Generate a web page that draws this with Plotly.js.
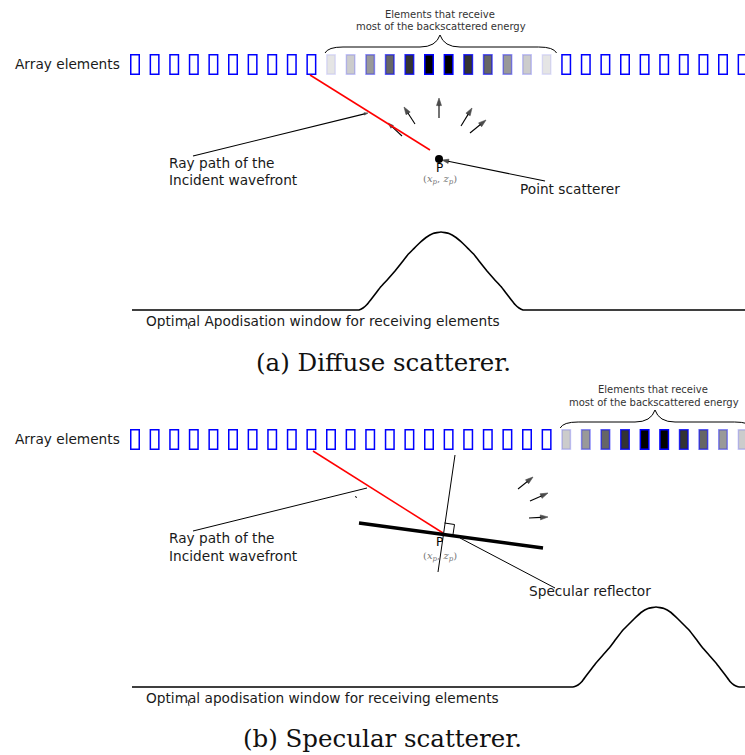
<!DOCTYPE html>
<html>
<head>
<meta charset="utf-8">
<script src="https://cdn.plot.ly/plotly-3.0.1.min.js"></script>
<style>html,body{margin:0;padding:0;background:#fff;}#plot{width:745px;height:755px;}</style>
</head>
<body>
<div id="plot"></div>
<script>
// ---------- data ----------
// receive weight of each of the 32 array elements (0 = idle element, blue outline)
const weightsA = [0,0,0,0,0,0,0,0,0,0, 0.1,0.2,0.4,0.6,0.8,1,1,0.8,0.6,0.4,0.2,0.1, 0,0,0,0,0,0,0,0,0,0];
const weightsB = [0,0,0,0,0,0,0,0,0,0, 0,0,0,0,0,0,0,0,0,0,0,0, 0.2,0.4,0.6,0.8,1,1,0.8,0.6,0.4,0.2];
// apodisation window curves
const windowAx = [132, 355, 359, 363, 367, 371, 376, 381, 388, 395, 401, 408, 413, 419, 426, 433, 441,
                  449, 456, 463, 469, 474, 481, 487, 494, 501, 506, 511, 515, 519, 523, 527, 745];
const windowAy = [310, 310, 310, 308, 304.5, 299.5, 293, 286.5, 279, 271, 263.5, 254.5, 249.5, 243.5, 237.5, 233.5, 232,
                  233.5, 237.5, 243.5, 249.5, 254.5, 263.5, 271, 279, 286.5, 293, 299.5, 304.5, 308, 310, 310, 310];
const windowBx = [132, 570, 574, 578, 582, 586, 591, 596, 603, 610, 616, 623, 628, 634, 641, 648, 656,
                  664, 671, 678, 684, 689, 696, 702, 709, 716, 721, 726, 730, 734, 738, 742, 745];
const windowBy = [687, 687, 686.7, 685, 681.5, 676, 669.5, 663, 655, 647, 639, 630, 625, 619, 612.5, 608.5, 607,
                  608.5, 612.5, 619, 625, 630, 639, 647, 655, 663, 669.5, 676, 681.5, 685, 686.7, 687, 687];
// texts
const labelArray = "Array elements";
const labelBrace = ["Elements that receive", "most of the backscattered energy"];
const labelRay = ["Ray path of the", "Incident wavefront"];
const labelPoint = "Point scatterer";
const labelSpec = "Specular reflector";
const labelWinA = "Optimal Apodisation window for receiving elements";
const labelWinB = "Optimal apodisation window for receiving elements";
const captionA = "(a) Diffuse scatterer.";
const captionB = "(b) Specular scatterer.";
const labelP = "P";
const labelCoord = "(<i>x</i><sub><i>p</i></sub>, <i>z</i><sub><i>p</i></sub>)";

// ---------- geometry ----------
const X0 = 130, PITCH = 19.6, EW = 10, EH = 21;
const rowTopA = 54, rowTopB = 429;
const SANS = "DejaVu Sans", SERIF = "DejaVu Serif";
const TXT = "#1a1a1a";

const shapes = [];
const annotations = [];
const traces = [];

function elements(weights, top) {
  weights.forEach((w, i) => {
    const x0 = X0 + PITCH * i + 0.75;
    const s = {type: 'rect', xref: 'x', yref: 'y', x0: x0, x1: x0 + EW - 1.5, y0: top + 0.75, y1: top + EH - 0.75, layer: 'above'};
    if (w === 0) {
      s.line = {color: '#0000ff', width: 1.5};
      s.fillcolor = 'rgba(0,0,0,0)';
    } else {
      s.line = {color: 'rgba(0,0,255,' + w + ')', width: 1.5};
      s.fillcolor = 'rgba(0,0,0,' + w + ')';
    }
    shapes.push(s);
  });
}
function brace(weights, top, peakX) {
  const idx = weights.map((w, i) => w > 0 ? i : -1).filter(i => i >= 0);
  const xa = X0 + PITCH * idx[0] - 1;
  const xb = X0 + PITCH * idx[idx.length - 1] + EW + 5;
  const yTip = top - 1, yBar = top - 7, yPeak = top - 19;
  shapes.push({type: 'path', xref: 'x', yref: 'y', line: {color: '#000', width: 1},
    path: `M ${xa} ${yTip} Q ${xa + 3} ${yBar} ${xa + 18} ${yBar} L ${peakX - 20} ${yBar} Q ${peakX - 4} ${yBar} ${peakX} ${yPeak} Q ${peakX + 4} ${yBar} ${peakX + 20} ${yBar} L ${xb - 18} ${yBar} Q ${xb - 3} ${yBar} ${xb} ${yTip}`});
}
function line(x0, y0, x1, y1, color, width) {
  shapes.push({type: 'line', xref: 'x', yref: 'y', x0, y0, x1, y1, line: {color, width}});
}
function arrow(tx, ty, hx, hy, size) {
  traces.push({x: [tx, hx], y: [ty, hy], mode: 'lines+markers', hoverinfo: 'skip',
    line: {color: '#000', width: 1.1},
    marker: {symbol: 'arrow', angleref: 'previous', size: [0, size || 8], color: '#000', line: {width: 0.6, color: '#000'}}});
}
function text(t, x, y, size, opts) {
  annotations.push(Object.assign({x, y, xref: 'x', yref: 'y', text: t, showarrow: false,
    xanchor: 'left', yanchor: 'middle', font: {family: SANS, size: size, color: TXT}}, opts || {}));
}

// ----- panel (a) -----
elements(weightsA, rowTopA);
brace(weightsA, rowTopA, 440);
text(labelArray, 13, 64, 13.7);
text(labelBrace[0], 440, 14, 10, {xanchor: 'center', font: {family: SANS, size: 10, color: '#333'}});
text(labelBrace[1], 441, 26, 10, {xanchor: 'center', font: {family: SANS, size: 10, color: '#333'}});
line(310, 75, 430, 150, '#ff0000', 1.5);
arrow(402, 136, 388, 123, 6);
arrow(415, 124, 404, 107);
arrow(439, 118, 439, 98);
arrow(461, 126, 472, 108);
arrow(470, 133, 486, 120);
traces.push({x: [439], y: [159], mode: 'markers', marker: {color: '#000', size: 8}, hoverinfo: 'skip'});
text(labelP, 439, 168, 12, {xanchor: 'center', font: {family: SANS, size: 12, color: '#000'}});
text(labelCoord, 440, 179, 10, {xanchor: 'center', font: {family: SERIF, size: 10, color: '#777'}});
arrow(545, 181, 442, 160, 7);
text(labelPoint, 518, 189, 13.7);
arrow(193, 156, 368, 113, 4);
text(labelRay[0], 167, 163, 13.7);
text(labelRay[1], 167, 180, 13.7);
traces.push({x: windowAx, y: windowAy, mode: 'lines', line: {color: '#000', width: 1.6, shape: 'spline', smoothing: 0.3}, hoverinfo: 'skip'});
text(labelWinA, 144, 321, 13.7);
line(188, 323, 189, 329, '#000', 0.8);
text(captionA, 383, 362, 24.5, {xanchor: 'center', font: {family: SERIF, size: 24.5, color: '#111'}});

// ----- panel (b) -----
elements(weightsB, rowTopB);
brace(weightsB, rowTopB, 655);
text(labelArray, 13, 439, 13.7);
text(labelBrace[0], 653, 389, 10, {xanchor: 'center', font: {family: SANS, size: 10, color: '#333'}});
text(labelBrace[1], 654, 402, 10, {xanchor: 'center', font: {family: SANS, size: 10, color: '#333'}});
line(313, 451, 443, 533, '#ff0000', 1.5);
line(455, 455, 438, 572, '#000', 1);
line(359, 523, 543, 548, '#000', 3.5);
shapes.push({type: 'path', xref: 'x', yref: 'y', line: {color: '#000', width: 1}, path: 'M 444.5 523 L 454.5 524.5 L 453 534.5'});
arrow(518, 489, 533, 477);
arrow(530, 501, 548, 493);
arrow(529, 518, 548, 517);
text(labelP, 439, 542, 12, {xanchor: 'center', font: {family: SANS, size: 12, color: '#000'}});
text(labelCoord, 440, 556, 10, {xanchor: 'center', font: {family: SERIF, size: 10, color: '#777'}});
line(460, 538, 555, 588, '#000', 1);
text(labelSpec, 527, 591, 13.7);
line(193, 531, 367, 488, '#000', 1);
line(355, 496.5, 357, 497.5, '#000', 1);
text(labelRay[0], 167, 538, 13.7);
text(labelRay[1], 167, 556, 13.7);
traces.push({x: windowBx, y: windowBy, mode: 'lines', line: {color: '#000', width: 1.6, shape: 'spline', smoothing: 0.3}, hoverinfo: 'skip'});
text(labelWinB, 144, 698, 13.7);
line(188, 700, 189, 706, '#000', 0.8);
text(captionB, 382, 738, 24.5, {xanchor: 'center', font: {family: SERIF, size: 24.5, color: '#111'}});

const layout = {
  width: 745, height: 755,
  margin: {l: 0, r: 0, t: 0, b: 0, pad: 0},
  paper_bgcolor: '#fff', plot_bgcolor: '#fff',
  showlegend: false,
  xaxis: {range: [0, 745], visible: false, fixedrange: true},
  yaxis: {range: [755, 0], visible: false, fixedrange: true},
  shapes: shapes,
  annotations: annotations
};
Plotly.newPlot('plot', traces, layout, {staticPlot: true, displayModeBar: false});
</script>
</body>
</html>
